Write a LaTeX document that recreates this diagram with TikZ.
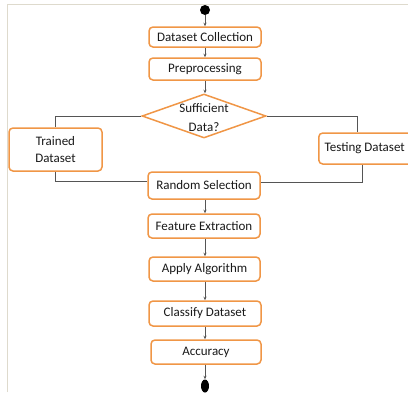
\documentclass[tikz,border=0pt]{standalone}
\usepackage{fontspec}
\setmainfont{Carlito}
\usetikzlibrary{shapes.geometric,arrows.meta}
\definecolor{boxorange}{RGB}{240,150,70}
\definecolor{lineg}{RGB}{85,85,85}
\definecolor{frameg}{RGB}{222,218,205}
\begin{document}
\begin{tikzpicture}[x=1pt,y=-1pt,
  stepbox/.style={draw=boxorange,line width=1.5pt,rounded corners=4pt,fill=white,
    inner sep=1pt,align=center,font=\fontsize{13}{16.5}\selectfont,text=black!90},
  decbox/.style={draw=boxorange,line width=1.5pt,shape=diamond,fill=white,inner sep=0pt,
    align=center,font=\fontsize{13}{19}\selectfont,text=black!90},
  conn/.style={draw=lineg,line width=0.6pt},
  arr/.style={conn,-{Stealth[length=3.5pt,width=3pt]}}]
\useasboundingbox (0,0) rectangle (408,392);
\draw[frameg,line width=0.8pt] (7,392) -- (7,4) -- (408,4);
\node[circle,fill=black,minimum size=10pt,inner sep=0pt] (start) at (205,10) {};
\node[stepbox,minimum width=112pt,minimum height=20pt] (dc) at (205,37) {Dataset Collection};
\node[stepbox,minimum width=112pt,minimum height=22pt] (pre) at (205,69) {Preprocessing};
\node[decbox,minimum width=124pt,minimum height=44pt,aspect=2.8] (dia) at (204,116) {};
\node[align=center,font=\fontsize{13}{19}\selectfont,text=black!90,inner sep=0pt] (diat) at (204,118) {Sufficient\\Data?};
\node[stepbox,minimum width=93pt,minimum height=43pt] (tr) at (55.5,149.5) {Trained\\Dataset};
\node[stepbox,minimum width=96pt,minimum height=31pt,anchor=west] (te) at (318,148.5) {\hspace*{-4pt}Testing Dataset};
\node[stepbox,minimum width=112pt,minimum height=27pt] (rs) at (204,185.5) {Random Selection};
\node[stepbox,minimum width=112pt,minimum height=24pt] (fe) at (204,226) {Feature Extraction};
\node[stepbox,minimum width=111pt,minimum height=24pt] (aa) at (204.5,269) {Apply Algorithm};
\node[stepbox,minimum width=112pt,minimum height=25pt] (cd) at (205,313.5) {Classify Dataset};
\node[stepbox,minimum width=110pt,minimum height=24pt] (ac) at (206,352) {Accuracy};
\node[ellipse,fill=black,minimum width=8pt,minimum height=13pt,inner sep=0pt] (end) at (205,386) {};
\draw[arr] (start.south) -- (start.south |- dc.north);
\draw[arr] (dc.south -| start) -- (pre.north -| start);
\draw[arr] (pre.south -| start) -- (dia.north -| start);
\draw[conn] (dia.west) -| (tr.north);
\draw[conn] (dia.east) -| ([xshift=-9pt]te.north);
\draw[conn] (tr.south) |- ([yshift=4pt]rs.west);
\draw[conn] ([xshift=-4pt]te.south) |- ([yshift=3pt]rs.east);
\draw[arr] (rs.south -| start) -- (fe.north -| start);
\draw[arr] (fe.south -| start) -- (aa.north -| start);
\draw[arr] (aa.south -| start) -- (cd.north -| start);
\draw[arr] (cd.south -| start) -- (ac.north -| start);
\draw[arr] (ac.south -| start) -- (end.north);
\end{tikzpicture}
\end{document}
